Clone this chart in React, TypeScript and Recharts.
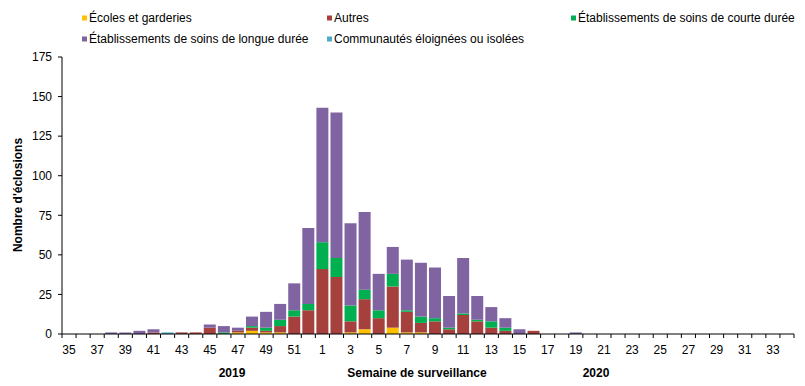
import React from 'react';
import { BarChart, Bar, XAxis, YAxis } from 'recharts';

const weeks = [
  '35','36','37','38','39','40','41','42','43','44','45','46','47','48','49','50','51','52',
  '1','2','3','4','5','6','7','8','9','10','11','12','13','14','15','16','17','18','19','20',
  '21','22','23','24','25','26','27','28','29','30','31','32','33','34',
];

const ecoles = [
  0,0,0,0,0,0,0,0,0,0,0,0,1,2,1,1,0,0,
  0,0,1,3,0,4,1,1,0,0,0,0,0,0,0,0,0,0,0,0,
  0,0,0,0,0,0,0,0,0,0,0,0,0,0,
];
const autres = [
  0,0,0,0,0,0,1,0,1,1,4,0,1,2,1,4,11,15,
  41,36,7,19,10,26,13,6,8,3,12,8,4,2,0,2,0,0,0,0,
  0,0,0,0,0,0,0,0,0,0,0,0,0,0,
];
const courte = [
  0,0,0,0,0,0,0,0,0,0,0,1,0,1,2,4,4,4,
  17,12,10,6,5,8,1,4,2,1,1,1,4,2,0,0,0,0,0,0,
  0,0,0,0,0,0,0,0,0,0,0,0,0,0,
];
const longue = [
  0,0,0,1,1,2,2,0,0,0,2,4,2,6,10,10,17,48,
  85,92,52,49,23,17,32,34,32,20,35,15,9,6,3,0,0,0,1,0,
  0,0,0,0,0,0,0,0,0,0,0,0,0,0,
];
const communautes = [
  0,0,0,0,0,0,0,1,0,0,0,0,0,0,0,0,0,0,
  0,0,0,0,0,0,0,0,0,0,0,0,0,0,0,0,0,0,0,0,
  0,0,0,0,0,0,0,0,0,0,0,0,0,0,
];

const yTicks = [0, 25, 50, 75, 100, 125, 150, 175];

const seriesNames = {
  ecoles: 'Écoles et garderies',
  autres: 'Autres',
  courte: 'Établissements de soins de courte durée',
  longue: 'Établissements de soins de longue durée',
  communautes: 'Communautés éloignées ou isolées',
};

const colors = {
  ecoles: '#FFC000',
  autres: '#A5403D',
  courte: '#00B050',
  longue: '#8064A2',
  communautes: '#4BACC6',
};

const data = weeks.map((w, i) => ({
  week: w,
  ecoles: ecoles[i],
  autres: autres[i],
  courte: courte[i],
  longue: longue[i],
  communautes: communautes[i],
}));

const FONT = '"Liberation Sans", Arial, sans-serif';

const XTick = (props: any) => {
  const { x, y, payload, index } = props;
  const half = payload && payload.offset ? payload.offset : 7.04;
  const isLast = index === weeks.length - 1;
  return (
    <g>
      <line x1={x - half} y1={y} x2={x - half} y2={y + 4} stroke="#000" strokeWidth={1} />
      {isLast && <line x1={x + half} y1={y} x2={x + half} y2={y + 4} stroke="#000" strokeWidth={1} />}
      {index % 2 === 0 && (
        <text x={x} y={y + 20} textAnchor="middle" fontSize={12} fill="#000" fontFamily={FONT}>
          {payload.value}
        </text>
      )}
    </g>
  );
};

const legendItems = [
  { key: 'ecoles', x: 82, y: 18 },
  { key: 'autres', x: 327, y: 18 },
  { key: 'courte', x: 571, y: 18 },
  { key: 'longue', x: 82, y: 39 },
  { key: 'communautes', x: 327, y: 39 },
];

export default function App() {
  return (
    <div style={{ position: 'absolute', left: 0, top: 0, width: 805, height: 386, background: '#fff' }}>
      <BarChart
        width={805}
        height={386}
        data={data}
        margin={{ top: 57, right: 11, bottom: 0, left: 0 }}
        barCategoryGap={1}
      >
        <XAxis
          dataKey="week"
          interval={0}
          tickSize={0}
          tickMargin={0}
          tickLine={false}
          axisLine={{ stroke: '#000', strokeWidth: 1 }}
          tick={<XTick />}
          height={52}
        />
        <YAxis
          domain={[0, 175]}
          ticks={yTicks}
          width={62}
          tickSize={4}
          tickMargin={6}
          tickLine={{ stroke: '#000' }}
          axisLine={{ stroke: '#000', strokeWidth: 1 }}
          tick={{ fontSize: 12, fill: '#000', fontFamily: FONT }}
          allowDecimals={false}
        />
        {(['ecoles', 'autres', 'courte', 'longue', 'communautes'] as const).map((k) => (
          <Bar
            key={k}
            dataKey={k}
            name={seriesNames[k]}
            stackId="a"
            fill={colors[k]}
            isAnimationActive={false}
          />
        ))}
      </BarChart>
      <svg
        width={805}
        height={386}
        style={{ position: 'absolute', left: 0, top: 0, pointerEvents: 'none' }}
      >
        {legendItems.map((it) => (
          <g key={it.key}>
            <rect x={it.x} y={it.y - 2.5} width={5} height={5} fill={colors[it.key as keyof typeof colors]} />
            <text x={it.x + 7} y={it.y + 4} fontSize={12} fill="#000" fontFamily={FONT}>
              {seriesNames[it.key as keyof typeof seriesNames]}
            </text>
          </g>
        ))}
        <text
          transform="translate(22,195) rotate(-90)"
          textAnchor="middle"
          fontSize={12}
          fontWeight="bold"
          fill="#000"
          fontFamily={FONT}
        >
          Nombre d'éclosions
        </text>
        <text x={232} y={377} textAnchor="middle" fontSize={12} fontWeight="bold" fill="#000" fontFamily={FONT}>
          2019
        </text>
        <text x={417} y={377} textAnchor="middle" fontSize={12} fontWeight="bold" fill="#000" fontFamily={FONT}>
          Semaine de surveillance
        </text>
        <text x={596} y={377} textAnchor="middle" fontSize={12} fontWeight="bold" fill="#000" fontFamily={FONT}>
          2020
        </text>
      </svg>
    </div>
  );
}
